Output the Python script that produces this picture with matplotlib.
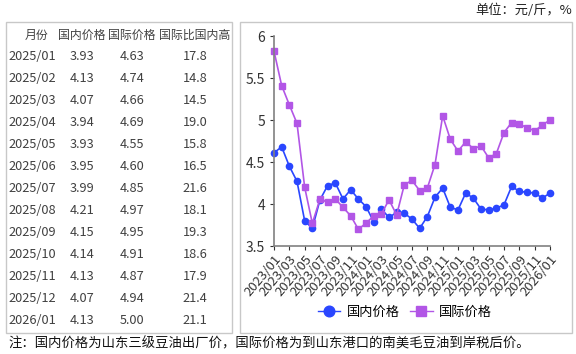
import matplotlib
matplotlib.use("Agg")
import matplotlib.pyplot as plt
from matplotlib.patches import Rectangle

plt.rcParams["font.family"] = ["Noto Sans CJK SC", "DejaVu Sans"]

W, H = 576, 354

months = [f"{y}/{m:02d}" for y in (2023, 2024, 2025) for m in range(1, 13)] + ["2026/01"]

domestic = [4.61, 4.68, 4.45, 4.27, 3.80, 3.71, 4.05, 4.22, 4.25, 4.06, 4.17, 4.06,
            3.97, 3.79, 3.94, 3.84, 3.90, 3.89, 3.82, 3.71, 3.85, 4.08, 4.19, 3.96,
            3.93, 4.13, 4.07, 3.94, 3.93, 3.95, 3.99, 4.21, 4.15, 4.14, 4.13, 4.07,
            4.13]
international = [5.82, 5.41, 5.18, 4.96, 4.20, 3.77, 4.06, 4.02, 4.06, 3.96, 3.86, 3.70,
                 3.77, 3.86, 3.88, 4.05, 3.87, 4.23, 4.28, 4.16, 4.19, 4.47, 5.05, 4.77,
                 4.63, 4.74, 4.66, 4.69, 4.55, 4.60, 4.85, 4.97, 4.95, 4.91, 4.87, 4.94,
                 5.00]

table_header = ["月份", "国内价格", "国际价格", "国际比国内高"]
table_months = ["2025/01", "2025/02", "2025/03", "2025/04", "2025/05", "2025/06", "2025/07",
                "2025/08", "2025/09", "2025/10", "2025/11", "2025/12", "2026/01"]
table_domestic = ["3.93", "4.13", "4.07", "3.94", "3.93", "3.95", "3.99",
                  "4.21", "4.15", "4.14", "4.13", "4.07", "4.13"]
table_intl = ["4.63", "4.74", "4.66", "4.69", "4.55", "4.60", "4.85",
              "4.97", "4.95", "4.91", "4.87", "4.94", "5.00"]
table_ratio = ["17.8", "14.8", "14.5", "19.0", "15.8", "16.5", "21.6",
               "18.1", "19.3", "18.6", "17.9", "21.4", "21.1"]

unit_text = "单位：元/斤，%"
note_text = "注：国内价格为山东三级豆油出厂价，国际价格为到山东港口的南美毛豆油到岸税后价。"


def fx(px):
    return px / W


def fy(py):
    return 1 - py / H


fig = plt.figure(figsize=(W / 100, H / 100), dpi=100)

# frames
for x0, x1 in ((6, 232), (240, 572)):
    fig.patches.append(Rectangle((fx(x0), fy(333)), fx(x1 - x0), (333 - 22) / H,
                                 transform=fig.transFigure, fill=False,
                                 edgecolor="#c8c8c8", linewidth=1))

fig.text(fx(572), fy(10), unit_text, ha="right", va="center", fontsize=9.5, color="#222222")

# table
txt_color = "#404040"
col_x = [37, 82, 132, 195]
for cx, h in zip(col_x, table_header):
    fig.text(fx(cx), fy(35), h, ha="center", va="center", fontsize=8.6, color=txt_color)
for i in range(len(table_months)):
    yy = fy(56 + i * 22)
    fig.text(fx(8), yy, table_months[i], ha="left", va="center", fontsize=9.2, color=txt_color)
    fig.text(fx(col_x[1]), yy, table_domestic[i], ha="center", va="center", fontsize=9.2, color=txt_color)
    fig.text(fx(col_x[2]), yy, table_intl[i], ha="center", va="center", fontsize=9.2, color=txt_color)
    fig.text(fx(col_x[3]), yy, table_ratio[i], ha="center", va="center", fontsize=9.2, color=txt_color)

# chart
ax = fig.add_axes([fx(274), fy(246), fx(550 - 274), (246 - 36) / H])
x = range(len(months))
ax.plot(x, domestic, color="#2a46ff", marker="o", markersize=4.5, linewidth=1.2,
        label="国内价格", clip_on=False)
ax.plot(x, international, color="#b256e6", marker="s", markersize=4.5, linewidth=1.2,
        label="国际价格", clip_on=False)
ax.set_xlim(0, len(months) - 1)
ax.set_ylim(3.5, 6)
ax.set_yticks([3.5, 4, 4.5, 5, 5.5, 6])
ax.set_yticklabels(["3.5", "4", "4.5", "5", "5.5", "6"])
ax.set_xticks(list(x)[::2])
ax.set_xticklabels(months[::2], rotation=50, ha="right", rotation_mode="anchor")
ax.tick_params(axis="x", labelsize=9.5, colors="#333333", length=3, pad=2)
ax.tick_params(axis="y", labelsize=10, colors="#333333", length=3)
for s in ("top", "right"):
    ax.spines[s].set_visible(False)
for s in ("left", "bottom"):
    ax.spines[s].set_color("#808080")
    ax.spines[s].set_linewidth(1.2)

leg = ax.legend(loc="center", bbox_to_anchor=(fx(405), fy(312)), bbox_transform=fig.transFigure,
                ncol=2, frameon=False, fontsize=9.5, handlelength=1.7, columnspacing=0.8,
                handletextpad=0.5, markerscale=1.7)
for line in leg.get_lines():
    line.set_linewidth(1.0)

fig.text(fx(8), fy(343), note_text, ha="left", va="center", fontsize=9.6, color="#111111")

fig.savefig("out.png", dpi=100)
